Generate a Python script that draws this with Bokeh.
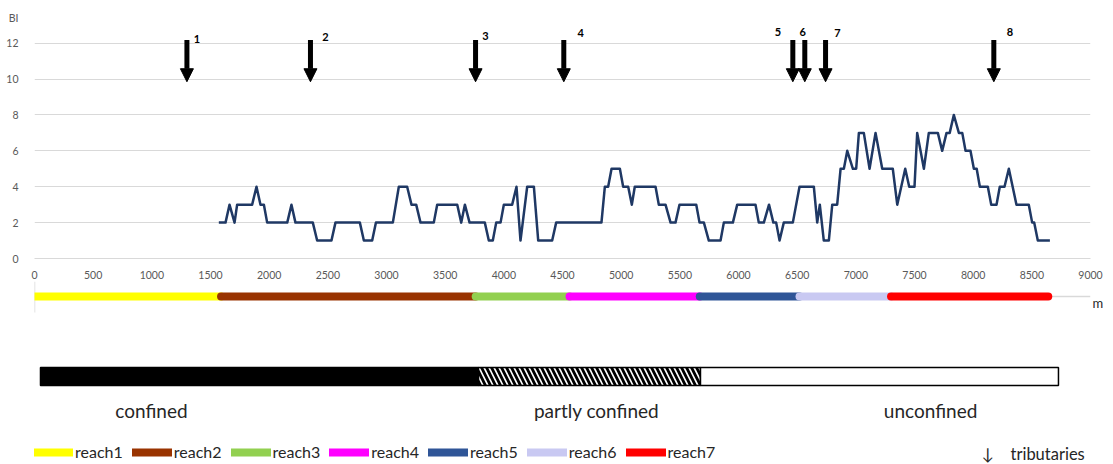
from bokeh.plotting import figure
from bokeh.layouts import column
from bokeh.models import Range1d, FixedTicker, Arrow, NormalHead, Legend, LegendItem, ColumnDataSource, LinearAxis
from bokeh.core.properties import value
from bokeh.embed import file_html
from bokeh.resources import INLINE

# ---------------- data ----------------
dist_m = [1571, 1628, 1662, 1705, 1727, 1855, 1892, 1926, 1955, 1983, 2154, 2190, 2224, 2372, 2409,
          2531, 2565, 2773, 2807, 2878, 2910, 3054, 3105, 3176, 3213, 3253, 3290, 3403, 3432, 3603,
          3637, 3668, 3708, 3838, 3872, 3906, 3935, 3972, 4000, 4071, 4108, 4142, 4199, 4256, 4293,
          4412, 4446, 4832, 4861, 4889, 4918, 4989, 5017, 5060, 5091, 5116, 5293, 5321, 5378, 5421,
          5463, 5497, 5640, 5668, 5705, 5747, 5847, 5875, 5952, 5989, 6145, 6173, 6216, 6260, 6297,
          6321, 6350, 6386, 6463, 6520, 6642, 6671, 6693, 6727, 6770, 6799, 6841, 6870, 6898, 6927,
          6975, 7003, 7026, 7068, 7117, 7168, 7225, 7315, 7353, 7421, 7455, 7500, 7523, 7580, 7622,
          7699, 7736, 7773, 7800, 7835, 7878, 7907, 7935, 7977, 8006, 8030, 8057, 8125, 8154, 8199,
          8227, 8267, 8304, 8369, 8474, 8503, 8520, 8551, 8654]
bi = [2, 2, 3, 2, 3, 3, 4, 3, 3, 2, 2, 3, 2, 2, 1,
      1, 2, 2, 1, 1, 2, 2, 4, 4, 3, 3, 2, 2, 3, 3,
      2, 3, 2, 2, 1, 1, 2, 2, 3, 3, 4, 1, 4, 4, 1,
      1, 2, 2, 4, 4, 5, 5, 4, 4, 3, 4, 4, 3, 3, 2,
      2, 3, 3, 2, 2, 1, 1, 2, 2, 3, 3, 2, 2, 3, 2,
      2, 1, 2, 2, 4, 4, 2, 3, 1, 1, 3, 3, 5, 5, 6,
      5, 5, 7, 7, 5, 7, 5, 5, 3, 5, 4, 4, 7, 5, 7,
      7, 6, 7, 7, 8, 7, 7, 6, 6, 5, 5, 4, 4, 3, 3,
      4, 4, 5, 3, 3, 2, 2, 1, 1]

x_ticks = list(range(0, 9001, 500))
y_ticks = [0, 2, 4, 6, 8, 10, 12]
y_title = "BI"
x_title = "m"

trib_ids = ["1", "2", "3", "4", "5", "6", "7", "8"]
trib_m = [1299, 2352, 3759, 4511, 6463, 6565, 6742, 8176]

reach_names = ["reach1", "reach2", "reach3", "reach4", "reach5", "reach6", "reach7"]
reach_start = [0, 1590, 3760, 4560, 5670, 6520, 7300]
reach_end = [1590, 3760, 4560, 5670, 6520, 7300, 8640]
reach_colors = ["#FFFF00", "#993300", "#92D050", "#FF00FF", "#2F5597", "#C9C9F2", "#FF0000"]

conf_labels = ["confined", "partly confined", "unconfined"]
conf_start = [51, 3784, 5676]
conf_end = [3784, 5676, 8727]
conf_label_m = [997, 4790, 7637]

# ---------------- layout constants ----------------
W = 1113
LEFT, RIGHT = 34, 23
PX_PER_M = (W - LEFT - RIGHT) / 9000.0
PX_PER_BI = 18.0833
FONT = value("Lato")
TXT = "#262626"

# ---------------- top figure ----------------
H1 = 281
YTOP = 260 / PX_PER_BI
BI_POS = (260 - 17.5) / PX_PER_BI
p1 = figure(width=W, height=H1, output_backend="svg", toolbar_location=None,
            x_range=Range1d(0, 9000), y_range=Range1d(0, YTOP),
            min_border_left=LEFT, min_border_right=RIGHT, min_border_top=0, min_border_bottom=21)
p1.outline_line_color = None
p1.xgrid.grid_line_color = None
p1.ygrid.grid_line_color = "#d9d9d9"
p1.ygrid.ticker = FixedTicker(ticks=y_ticks)
p1.xaxis.ticker = FixedTicker(ticks=x_ticks)
p1.yaxis.ticker = FixedTicker(ticks=y_ticks + [BI_POS])
p1.yaxis.major_label_overrides = {BI_POS: y_title}
for ax in (p1.xaxis[0], p1.yaxis[0]):
    ax.major_tick_line_color = None
    ax.minor_tick_line_color = None
    ax.major_label_text_font = "Lato"
    ax.major_label_text_font_size = "10.5px"
    ax.major_label_text_color = "#595959"
p1.xaxis.axis_line_color = "#d9d9d9"
p1.yaxis.axis_line_color = None
p1.xaxis.major_label_standoff = 6
p1.yaxis.major_label_standoff = 10

p1.line(dist_m, bi, line_color="#1F3864", line_width=2.5, line_join="round")

for xm in trib_m:
    p1.add_layout(Arrow(end=NormalHead(size=13, fill_color="black", line_color="black"),
                        x_start=xm, y_start=12.17, x_end=xm, y_end=9.85,
                        line_color="black", line_width=5))
lab_dx = [10, 15, 10, 17, -15, -2, 12, 16]
lab_dy = [-1, -3, -4, -7, -8, -8, -7, -8]
p1.text(x=trib_m, y=[12.17] * len(trib_m), text=trib_ids, x_offset=lab_dx, y_offset=lab_dy,
        text_font=FONT, text_font_style="bold", text_font_size="11px", text_color="black",
        text_align="center", text_baseline="middle")

# ---------------- bottom figure ----------------
H2 = 464 - H1
p2 = figure(width=W, height=H2, output_backend="svg", toolbar_location=None,
            x_range=Range1d(0, 9000), y_range=Range1d(464, H1),
            x_axis_type=None, y_axis_type=None,
            min_border_left=LEFT, min_border_right=RIGHT, min_border_top=0, min_border_bottom=0)
p2.outline_line_color = None
p2.grid.visible = False

# right-hand axis that carries the distance unit label "m"
m_axis = LinearAxis(ticker=FixedTicker(ticks=[302]), major_label_overrides={302: x_title},
                    axis_line_color=None, major_tick_line_color=None, minor_tick_line_color=None,
                    major_label_standoff=-4, major_label_text_font="Lato",
                    major_label_text_font_size="13px", major_label_text_color=TXT)
p2.add_layout(m_axis, "right")

# secondary axis lines
p2.segment(x0=[0, 0], y0=[296, H1], x1=[9000, 0], y1=[296, 312], line_color="#d9d9d9", line_width=1.5)

reach_renderers = []
for s, e, c in zip(reach_start, reach_end, reach_colors):
    r = p2.line([s, e], [296, 296], line_color=c, line_width=8, line_cap="round")
    reach_renderers.append(r)

conf_src = ColumnDataSource(dict(left=conf_start, right=conf_end,
                                 fill=["black", "white", "white"],
                                 hatch=[" ", "\\", " "]))
p2.quad(left="left", right="right", top=367, bottom=385, source=conf_src,
        fill_color="fill", hatch_pattern="hatch", hatch_color="black", hatch_scale=10,
        hatch_weight=2.8, line_color="black", line_width=1.5)

p2.text(x=conf_label_m, y=[410] * 3, text=conf_labels, text_font=FONT, text_font_size="19px",
        text_color=TXT, text_align="center", text_baseline="middle")

# legend
items = [LegendItem(label=n, renderers=[r]) for n, r in zip(reach_names, reach_renderers)]
leg = Legend(items=items, orientation="horizontal", location=(-1, 3),
             glyph_width=40, glyph_height=16, label_height=16, label_standoff=2, spacing=9,
             padding=0, margin=0, border_line_color=None, background_fill_alpha=0,
             label_text_font="Lato", label_text_font_size="16px", label_text_color=TXT)
p2.add_layout(leg)

p2.text(x=[(986 - LEFT) / PX_PER_M, (1010 - LEFT) / PX_PER_M], y=[453, 453],
        text=["↓", "tributaries"], text_font=FONT, text_font_size="16.5px", text_color=TXT,
        text_align="left", text_baseline="middle", x_offset=[-5, 0])

layout = column(p1, p2, spacing=0)
open("out.html", "w").write(file_html(layout, INLINE))
